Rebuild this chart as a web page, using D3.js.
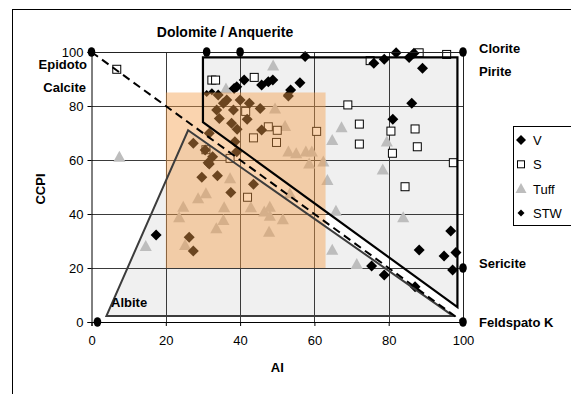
<!DOCTYPE html>
<html>
<head>
<meta charset="utf-8">
<script src="https://cdn.jsdelivr.net/npm/d3@7/dist/d3.min.js"></script>
<style>
  body { margin: 0; background: #fff; }
  svg text { font-family: "Liberation Sans", Arial, sans-serif; }
</style>
</head>
<body>
<svg id="chart" width="571" height="394"></svg>
<script>
// series values: [AI, CCPI]
const vPoints = [
  [57.5, 98.3], [76, 95.8], [78.8, 97.3], [82, 99.7], [85.5, 98], [86.8, 99.5], [89.1, 94], [86.2, 81], [81.1, 75.1],
  [41.1, 89.6], [45.8, 87.8], [47.6, 89], [48.8, 89.6], [38.4, 86.5], [39.1, 87.1], [56.1, 88.6], [53.6, 85.9], [53, 83.7],
  [34.1, 84.1], [36.4, 82.2], [33.7, 78.5], [38.2, 78.5], [34.4, 75.4], [40, 82.2], [42.5, 81], [45.4, 79.1], [35.5, 81],
  [37.7, 73.6], [39.2, 71.4], [45.8, 71.1], [41.9, 75.1], [31.7, 69.9], [27.4, 66.2], [30.6, 63.7], [32.6, 61.2], [31.4, 59],
  [38.6, 66.8], [39.1, 63.1], [31.7, 58.5], [29.7, 53.6], [33.9, 54.2], [37.5, 48], [43.6, 51], [26.3, 31.4], [27.4, 26.3],
  [17.4, 32.2], [96.7, 33.7], [88.2, 26.7], [94.9, 24.4], [98.1, 25.7], [97.2, 19.3], [75.4, 20.7], [78.8, 17.4], [87.1, 13.1]
];
const sPoints = [
  [6.8, 93.6], [32.4, 89.6], [33.4, 89.6], [43.8, 90.6], [75, 96.8], [88.2, 99.7], [95.6, 99.1], [41.5, 78], [47.6, 72.3],
  [43.6, 68.2], [50, 71], [49.8, 66.5], [30.8, 63.8], [37.3, 60.6], [60.6, 70.6], [69, 80.4], [72.1, 73.3], [72.1, 65.9],
  [80.6, 70.7], [87.1, 71.5], [87.7, 64.9], [81, 62.5], [97.4, 59], [42, 46.2], [84.4, 50.1]
];
const tuffPoints = [
  [7.5, 61.2], [36.2, 86.5], [48.9, 95], [49.4, 79.1], [67.3, 72.1], [64.8, 67.4], [79.5, 66.8], [52.1, 72.6], [53, 63.1],
  [55.1, 62.5], [57.7, 63.1], [59.3, 63.1], [58.6, 58.7], [62.4, 59.4], [78.4, 56.5], [14.6, 28.1], [24.7, 42.7], [23.6, 38.8],
  [28.7, 45.8], [30.8, 47.7], [35.7, 42.5], [35.5, 37.8], [33.6, 34.7], [37.3, 53.2], [25.2, 28.5], [42.9, 42.5], [46.5, 40.9],
  [48, 42.7], [48, 39.3], [47.8, 33.4], [53.4, 47.7], [51.5, 38], [63.5, 52.6], [65.8, 41.2], [64.8, 26.7], [71.4, 21.5], [83.9, 38.8]
];
const stwPoints = [[32.4, 85.3], [31, 84.6], [52.5, 84.1]];

// reference minerals (black dots)
const refPoints = [[0, 100], [31, 100], [40, 100], [100, 100], [100, 20], [100, 0], [1.6, 0]];

// fields
const boxField = [[30, 98], [98.5, 98], [98.5, 5.5], [30, 74]];
const albiteField = [[4, 2.2], [26, 71], [97.4, 2.2]];
const orangeBox = [[20, 20], [63, 85]];
const dashedLine = [[0, 100], [100, 0]];

const ticks = [0, 20, 40, 60, 80, 100];
const gridTicks = [20, 40, 60, 80];

const labels = [
  { text: 'Dolomite / Anquerite', px: 225, py: 37, anchor: 'middle', size: 14 },
  { text: 'Epidoto', px: 87, py: 69, anchor: 'end', size: 13 },
  { text: 'Calcite', px: 86, py: 92, anchor: 'end', size: 13 },
  { text: 'Clorite', px: 479, py: 53, anchor: 'start', size: 13 },
  { text: 'Pirite', px: 479, py: 76, anchor: 'start', size: 13 },
  { text: 'Sericite', px: 479, py: 268, anchor: 'start', size: 13 },
  { text: 'Feldspato K', px: 479, py: 327, anchor: 'start', size: 13 },
  { text: 'Albite', px: 111, py: 307, anchor: 'start', size: 13 }
];

const svg = d3.select('#chart');

const x = d3.scaleLinear().domain([0, 100]).range([91.5, 463]);
const y = d3.scaleLinear().domain([0, 100]).range([322, 52]);

// outer frame
svg.append('rect')
  .attr('x', 12.5).attr('y', 9.5)
  .attr('width', 600).attr('height', 420)
  .attr('fill', 'none').attr('stroke', '#000');

const line = d3.line().x(d => x(d[0])).y(d => y(d[1]));
const closed = d3.line().x(d => x(d[0])).y(d => y(d[1])).curve(d3.curveLinearClosed);

// gray fields
svg.append('path').attr('d', closed(boxField)).attr('fill', '#f0f0f0');
svg.append('path').attr('d', closed(albiteField)).attr('fill', '#f0f0f0');

// grid, drawn as one path
const gx = t => Math.round(x(t)) + 0.5;
const gy = t => Math.round(y(t)) + 0.5;
const gridD = gridTicks.map(t => `M${gx(t)},${y(0)}V${y(100)}`).join('') +
  gridTicks.map(t => `M${x(0)},${gy(t)}H${x(100)}`).join('');
svg.append('path')
  .attr('d', gridD)
  .attr('fill', 'none')
  .attr('stroke', '#3a3a3a')
  .attr('stroke-width', 1);

// axes
const xAxis = svg.append('g')
  .attr('transform', `translate(0,${y(0)})`)
  .call(d3.axisBottom(x).tickValues(ticks).tickSize(4).tickPadding(10));
const yAxis = svg.append('g')
  .attr('transform', `translate(${x(0)},0)`)
  .call(d3.axisLeft(y).tickValues(ticks).tickSize(4).tickPadding(4));
[xAxis, yAxis].forEach(a => {
  a.selectAll('path, line').attr('stroke', '#000');
  a.selectAll('text').attr('font-size', 13).attr('fill', '#000')
    .style('font-family', '"Liberation Sans", Arial, sans-serif');
});

// points
const diamond = r => `M0,${-r}L${r},0L0,${r}L${-r},0Z`;
const tri = s => `M0,${-s * 0.55}L${s * 0.55},${s * 0.45}L${-s * 0.55},${s * 0.45}Z`;

svg.append('g').selectAll('path').data(tuffPoints).join('path')
  .attr('d', tri(11))
  .attr('transform', d => `translate(${x(d[0])},${y(d[1])})`)
  .attr('fill', '#bdbdbd');

svg.append('g').selectAll('rect').data(sPoints).join('rect')
  .attr('x', d => x(d[0]) - 4).attr('y', d => y(d[1]) - 4)
  .attr('width', 8).attr('height', 8)
  .attr('fill', '#fff').attr('stroke', '#000').attr('stroke-width', 1);

svg.append('g').selectAll('path').data(vPoints).join('path')
  .attr('d', diamond(5.5))
  .attr('transform', d => `translate(${x(d[0])},${y(d[1])})`)
  .attr('fill', '#000');

svg.append('g').selectAll('path').data(stwPoints).join('path')
  .attr('d', diamond(3.5))
  .attr('transform', d => `translate(${x(d[0])},${y(d[1])})`)
  .attr('fill', '#000');

// orange overlay
svg.append('rect')
  .attr('x', x(orangeBox[0][0])).attr('y', y(orangeBox[1][1]))
  .attr('width', x(orangeBox[1][0]) - x(orangeBox[0][0]))
  .attr('height', y(orangeBox[0][1]) - y(orangeBox[1][1]))
  .attr('fill', 'rgb(243,157,73)').attr('fill-opacity', 0.44);

// plot border top/right
svg.append('path')
  .attr('d', `M${x(0)},${y(100) + 0.5}H${x(100) + 0.5}V${y(0)}`)
  .attr('fill', 'none').attr('stroke', '#222');

// field outlines
svg.append('path').attr('d', closed(albiteField))
  .attr('fill', 'none').attr('stroke', '#3c3c3c').attr('stroke-width', 2);
svg.append('path').attr('d', closed(boxField))
  .attr('fill', 'none').attr('stroke', '#000').attr('stroke-width', 2.2);
svg.append('path').attr('d', line(dashedLine))
  .attr('fill', 'none').attr('stroke', '#000').attr('stroke-width', 2)
  .attr('stroke-dasharray', '8,5');

// reference dots
svg.append('g').selectAll('ellipse').data(refPoints).join('ellipse')
  .attr('cx', d => x(d[0])).attr('cy', d => y(d[1]))
  .attr('rx', 3.8).attr('ry', 4.8).attr('fill', '#000');

// mineral labels
svg.append('g').selectAll('text').data(labels).join('text')
  .attr('x', d => d.px).attr('y', d => d.py)
  .attr('text-anchor', d => d.anchor)
  .attr('font-size', d => d.size).attr('font-weight', 'bold')
  .text(d => d.text);

svg.append('text').attr('x', x(50)).attr('y', 372)
  .attr('text-anchor', 'middle').attr('font-size', 13).attr('font-weight', 'bold').text('AI');
svg.append('text')
  .attr('transform', `translate(45,${y(50) + 2}) rotate(-90)`)
  .attr('text-anchor', 'middle').attr('font-size', 13).attr('font-weight', 'bold').text('CCPI');

// legend
const legend = svg.append('g');
legend.append('rect').attr('x', 513.5).attr('y', 126.5).attr('width', 80).attr('height', 99)
  .attr('fill', '#fff').attr('stroke', '#000');
const legendItems = [
  { name: 'V', kind: 'v' }, { name: 'S', kind: 's' }, { name: 'Tuff', kind: 't' }, { name: 'STW', kind: 'w' }
];
legendItems.forEach((d, i) => {
  const cy = 140 + i * 24.3;
  if (d.kind === 'v') legend.append('path').attr('d', diamond(5)).attr('transform', `translate(521,${cy})`).attr('fill', '#000');
  if (d.kind === 's') legend.append('rect').attr('x', 517.5).attr('y', cy - 3.5).attr('width', 7).attr('height', 7).attr('fill', '#fff').attr('stroke', '#000');
  if (d.kind === 't') legend.append('path').attr('d', tri(10)).attr('transform', `translate(521,${cy})`).attr('fill', '#bdbdbd');
  if (d.kind === 'w') legend.append('path').attr('d', diamond(3.5)).attr('transform', `translate(521,${cy})`).attr('fill', '#000');
  legend.append('text').attr('x', 533).attr('y', cy + 5).attr('font-size', 13).text(d.name);
});
</script>
</body>
</html>
